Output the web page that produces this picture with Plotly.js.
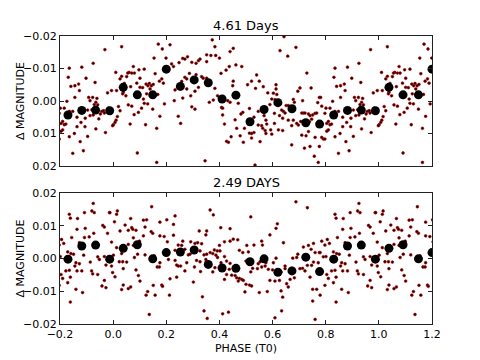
<!DOCTYPE html>
<html>
<head>
<meta charset="utf-8">
<script src="https://cdn.plot.ly/plotly-3.0.1.min.js"></script>
<style>html,body{margin:0;padding:0;background:#fff;}#chart{width:480px;height:360px;}</style>
</head>
<body>
<div id="chart"></div>
<script>
// Titles and labels
const topTitle = "4.61 Days";
const bottomTitle = "2.49 DAYS";
const yLabel = "\u0394 MAGNITUDE";
const xLabel = "PHASE (T0)";

// Phase-folded photometry, one cycle (phase, delta magnitude) - 4.61 day period
const topPoints = [
[0.032,-0.0167],[0.170,-0.0175],[0.185,-0.0160],[0.214,-0.0173],[0.154,-0.0132],[0.199,-0.0132],[0.248,-0.0118],[0.220,-0.0114],[0.227,-0.0106],[0.010,-0.0088],
[0.076,-0.0106],[0.060,-0.0088],[0.055,-0.0086],[0.070,-0.0086],[0.080,-0.0086],[0.097,-0.0096],[0.117,-0.0098],[0.158,-0.0084],[0.026,-0.0068],[0.032,-0.0076],
[0.051,-0.0075],[0.101,-0.0070],[0.183,-0.0068],[0.174,-0.0061],[0.189,-0.0055],[0.089,-0.0055],[0.042,-0.0054],[0.066,-0.0044],[0.101,-0.0042],[0.111,-0.0041],
[0.124,-0.0052],[0.131,-0.0047],[0.136,-0.0054],[0.144,-0.0047],[0.151,-0.0051],[0.139,-0.0037],[0.168,-0.0020],[0.126,-0.0022],[0.114,-0.0006],[-0.006,-0.0032],
[0.013,-0.0032],[0.038,-0.0027],[0.048,-0.0016],[0.036,-0.0022],[0.230,-0.0001],[0.233,-0.0034],[0.243,-0.0042],[0.117,0.0007],[0.130,0.0009],[0.149,0.0025],
[0.193,0.0009],[0.057,0.0012],[0.070,0.0016],[0.020,0.0017],[0.026,0.0030],[0.107,0.0022],[0.095,0.0035],[0.079,0.0042],[0.016,0.0048],[0.011,0.0059],
[0.007,0.0066],[0.001,0.0073],[-0.002,0.0076],[0.064,0.0071],[0.122,0.0073],[0.176,0.0047],[0.245,0.0047],[0.164,0.0084],[0.091,0.0160],[0.164,0.0189],
[0.373,-0.0188],[0.452,-0.0162],[0.440,-0.0152],[0.383,-0.0167],[0.352,-0.0142],[0.368,-0.0140],[0.386,-0.0140],[0.400,-0.0132],[0.262,-0.0131],[0.280,-0.0136],
[0.270,-0.0129],[0.312,-0.0116],[0.321,-0.0124],[0.327,-0.0129],[0.352,-0.0121],[0.296,-0.0119],[0.462,-0.0111],[0.484,-0.0106],[0.437,-0.0106],[0.425,-0.0095],
[0.406,-0.0085],[0.287,-0.0085],[0.270,-0.0073],[0.277,-0.0068],[0.312,-0.0081],[0.333,-0.0075],[0.339,-0.0070],[0.352,-0.0070],[0.302,-0.0063],[0.321,-0.0042],
[0.258,-0.0060],[0.277,-0.0037],[0.308,-0.0030],[0.292,-0.0016],[0.262,-0.0009],[0.383,-0.0039],[0.452,-0.0061],[0.450,-0.0047],[0.506,-0.0050],[0.393,-0.0016],
[0.440,0.0004],[0.408,0.0020],[0.412,0.0022],[0.377,-0.0003],[0.362,0.0004],[0.431,-0.0001],[0.471,0.0007],[0.513,0.0023],[0.488,0.0035],[0.481,0.0040],
[0.296,0.0018],[0.308,0.0025],[0.254,0.0069],[0.412,0.0043],[0.459,0.0058],[0.419,0.0071],[0.509,0.0071],[0.494,0.0084],[0.465,0.0084],[0.513,0.0099],
[0.444,0.0110],[0.478,0.0107],[0.427,0.0124],[0.434,0.0127],[0.490,0.0127],[0.346,0.0184],
[0.643,-0.0198],[0.688,-0.0165],[0.628,-0.0155],[0.657,-0.0138],[0.729,-0.0086],[0.540,-0.0080],[0.550,-0.0061],[0.521,-0.0061],[0.565,-0.0044],[0.536,-0.0039],
[0.613,-0.0050],[0.613,-0.0037],[0.582,-0.0025],[0.603,-0.0024],[0.703,-0.0040],[0.695,-0.0030],[0.745,-0.0040],[0.616,-0.0020],[0.597,-0.0006],[0.609,-0.0004],
[0.590,0.0011],[0.678,-0.0005],[0.682,0.0004],[0.713,-0.0001],[0.651,0.0014],[0.659,0.0014],[0.666,0.0020],[0.634,0.0028],[0.641,0.0032],[0.647,0.0037],
[0.546,0.0032],[0.568,0.0045],[0.575,0.0059],[0.607,0.0038],[0.626,0.0045],[0.638,0.0053],[0.710,0.0037],[0.716,0.0037],[0.722,0.0037],[0.735,0.0040],
[0.741,0.0045],[0.751,0.0043],[0.760,0.0038],[0.766,0.0037],[0.776,-0.0011],[0.770,0.0005],[0.530,0.0050],[0.546,0.0074],[0.559,0.0076],[0.563,0.0084],
[0.578,0.0071],[0.607,0.0069],[0.659,0.0059],[0.678,0.0059],[0.691,0.0069],[0.672,0.0076],[0.697,0.0074],[0.706,0.0063],[0.739,0.0064],[0.747,0.0056],
[0.521,0.0100],[0.530,0.0097],[0.575,0.0100],[0.572,0.0091],[0.593,0.0089],[0.597,0.0102],[0.622,0.0089],[0.638,0.0091],[0.735,0.0094],[0.710,0.0105],
[0.726,0.0107],[0.760,0.0112],[0.521,0.0114],[0.553,0.0125],[0.672,0.0135],[0.720,0.0145],[0.741,0.0140],[0.776,0.0140],[0.757,0.0170],[0.772,0.0189],[0.534,0.0197],
[0.969,-0.0158],[0.835,-0.0101],[0.882,-0.0104],[0.925,-0.0116],[0.831,-0.0073],[0.898,-0.0070],[0.841,-0.0045],[0.856,-0.0047],[0.870,-0.0052],[0.873,-0.0032],
[0.932,-0.0057],[0.979,-0.0025],[0.781,-0.0011],[0.826,0.0001],[0.856,-0.0011],[0.908,-0.0011],[0.923,-0.0011],[0.913,-0.0001],[0.939,-0.0008],[0.935,0.0004],
[0.929,0.0011],[0.942,0.0012],[0.785,0.0016],[0.801,0.0022],[0.816,0.0022],[0.797,0.0038],[0.835,0.0032],[0.848,0.0032],[0.904,0.0028],[0.920,0.0027],
[0.957,0.0032],[0.964,0.0030],[0.967,0.0037],[0.982,0.0022],[0.810,0.0063],[0.804,0.0069],[0.816,0.0073],[0.822,0.0071],[0.864,0.0050],[0.879,0.0066],
[0.895,0.0053],[0.913,0.0045],[0.925,0.0043],[0.946,0.0055],[0.952,0.0040],[0.864,0.0079],[0.894,0.0079],[0.804,0.0093],[0.810,0.0089],[0.785,0.0112],
[0.791,0.0117],[0.797,0.0117],[0.835,0.0110],[0.854,0.0100],[0.904,0.0109],[0.935,0.0086],[0.971,0.0097],[0.876,0.0125],[0.888,0.0153],[0.848,0.0161]
];

// Binned means, 4.61 day period
const topBinPhase = [0.038,0.091,0.149,0.200,0.253,0.305,0.358,0.410,0.462,0.515,0.568,0.620,0.673,0.725,0.777,0.830,0.882,0.934,0.987];
const topBinMag   = [-0.0042,-0.0019,-0.0019,-0.0098,-0.0045,-0.0065,-0.0056,-0.0006,-0.0018,0.0064,0.0026,0.0005,0.0024,0.0067,0.0071,0.0043,0.0029,0.0028,0.0030];

// Phase-folded photometry, one cycle - 2.49 day period
const bottomPoints = [
[0.145,0.0158],[0.016,0.0145],[0.013,0.0135],[-0.012,0.0140],[0.005,0.0112],[0.066,0.0122],[0.114,0.0117],[0.126,0.0118],[0.176,0.0111],[0.202,0.0118],
[0.227,0.0104],[0.233,0.0130],[0.045,0.0102],[0.070,0.0094],[0.074,0.0089],[0.026,0.0084],[0.057,0.0086],[0.086,0.0086],[0.120,0.0096],[0.143,0.0082],
[0.149,0.0077],[0.176,0.0069],[0.192,0.0067],[0.114,0.0069],[0.076,0.0063],[0.227,0.0071],[0.204,0.0051],[0.099,0.0053],[0.095,0.0045],[-0.006,0.0050],
[0.013,0.0033],[0.057,0.0043],[0.076,0.0040],[0.245,0.0041],[0.233,0.0025],[0.032,0.0015],[0.001,0.0010],[0.092,0.0013],[0.120,0.0011],[0.155,0.0008],
[0.080,0.0003],[0.051,-0.0011],[0.023,-0.0010],[0.036,-0.0010],[-0.006,-0.0023],[0.233,-0.0006],[0.239,-0.0020],[0.245,-0.0023],[0.208,-0.0003],[0.176,-0.0013],
[0.166,-0.0026],[0.174,-0.0026],[0.038,-0.0031],[0.086,-0.0035],[-0.002,-0.0043],[0.007,-0.0056],[0.095,-0.0052],[0.239,-0.0057],[0.214,-0.0062],[0.101,-0.0069],
[0.038,-0.0081],[0.066,-0.0087],[0.057,-0.0092],[0.032,-0.0095],[0.151,-0.0082],[0.183,-0.0081],[0.186,-0.0085],[0.130,-0.0101],[0.124,-0.0112],[0.158,-0.0112],
[0.212,-0.0112],[0.136,-0.0171],
[0.365,0.0148],[0.377,0.0133],[0.405,0.0094],[0.440,0.0091],[0.324,0.0084],[0.352,0.0084],[0.349,0.0072],[0.452,0.0059],[0.440,0.0053],[0.419,0.0051],
[0.469,0.0057],[0.262,0.0053],[0.258,0.0040],[0.270,0.0028],[0.292,0.0051],[0.308,0.0046],[0.318,0.0048],[0.333,0.0045],[0.400,0.0040],[0.381,0.0026],
[0.392,0.0023],[0.402,0.0023],[0.365,0.0018],[0.375,0.0015],[0.342,0.0011],[0.352,0.0013],[0.327,0.0023],[0.308,0.0023],[0.296,0.0028],[0.289,0.0013],
[0.475,0.0025],[0.488,0.0018],[0.509,0.0020],[0.503,0.0040],[0.283,0.0011],[0.387,0.0010],[0.393,0.0003],[0.419,0.0006],[0.406,-0.0013],[0.427,-0.0008],
[0.440,-0.0015],[0.349,-0.0003],[0.314,-0.0006],[0.327,-0.0010],[0.500,-0.0008],[0.277,-0.0013],[0.306,-0.0026],[0.254,-0.0023],[0.437,-0.0033],[0.427,-0.0049],
[0.446,-0.0051],[0.459,-0.0052],[0.465,-0.0059],[0.475,-0.0061],[0.484,-0.0064],[0.490,-0.0067],[0.471,-0.0069],[0.419,-0.0064],[0.270,-0.0038],[0.329,-0.0040],
[0.375,-0.0041],[0.383,-0.0028],[0.400,-0.0028],[0.500,-0.0079],[0.513,-0.0081],[0.496,-0.0102],[0.302,-0.0072],[0.336,-0.0117],[0.342,-0.0160],[0.354,-0.0183],
[0.434,-0.0164],[0.412,-0.0169],
[0.688,0.0173],[0.731,0.0155],[0.518,0.0127],[0.618,0.0106],[0.613,0.0092],[0.590,0.0072],[0.559,0.0053],[0.530,0.0041],[0.562,0.0041],[0.641,0.0048],
[0.754,0.0046],[0.735,0.0040],[0.716,0.0035],[0.745,0.0028],[0.760,0.0018],[0.776,0.0018],[0.695,0.0013],[0.676,0.0001],[0.691,0.0003],[0.613,0.0001],
[0.603,-0.0013],[0.575,-0.0013],[0.572,-0.0023],[0.553,-0.0010],[0.546,-0.0016],[0.559,-0.0026],[0.543,-0.0031],[0.525,-0.0030],[0.647,-0.0023],[0.647,-0.0031],
[0.672,-0.0030],[0.703,-0.0031],[0.713,-0.0030],[0.722,-0.0038],[0.731,-0.0021],[0.747,-0.0021],[0.772,-0.0013],[0.754,-0.0011],[0.584,-0.0033],[0.600,-0.0035],
[0.619,-0.0040],[0.741,-0.0057],[0.632,-0.0041],[0.518,-0.0041],[0.590,-0.0067],[0.609,-0.0069],[0.626,-0.0067],[0.666,-0.0064],[0.682,-0.0059],[0.653,-0.0077],
[0.659,-0.0087],[0.521,-0.0084],[0.751,-0.0094],[0.766,-0.0094],[0.550,-0.0104],[0.580,-0.0101],[0.632,-0.0099],[0.638,-0.0118],[0.751,-0.0130],[0.634,-0.0160],
[0.609,-0.0181],[0.760,-0.0186],
[0.925,0.0168],[0.835,0.0135],[0.839,0.0123],[0.892,0.0140],[0.920,0.0145],[0.929,0.0140],[0.986,0.0140],[0.866,0.0122],[0.961,0.0101],[0.967,0.0096],
[0.895,0.0092],[0.864,0.0089],[0.979,0.0077],[0.927,0.0077],[0.910,0.0066],[0.892,0.0064],[0.844,0.0064],[0.873,0.0048],[0.879,0.0041],[0.785,0.0053],
[0.806,0.0058],[0.814,0.0046],[0.797,0.0041],[0.779,0.0018],[0.801,0.0006],[0.791,0.0005],[0.829,0.0020],[0.841,0.0015],[0.851,0.0013],[0.889,0.0010],
[0.942,0.0005],[0.948,-0.0003],[0.967,0.0006],[0.860,-0.0013],[0.873,-0.0016],[0.914,-0.0011],[0.856,-0.0023],[0.864,-0.0038],[0.835,-0.0036],[0.839,-0.0057],
[0.822,-0.0038],[0.804,-0.0049],[0.810,-0.0061],[0.829,-0.0074],[0.882,-0.0038],[0.919,-0.0038],[0.923,-0.0047],[0.942,-0.0049],[0.973,-0.0020],[0.967,-0.0067],
[0.958,-0.0084],[0.973,-0.0089],[0.885,-0.0104],[0.860,-0.0094],[0.779,-0.0112],[0.797,-0.0082],[0.839,-0.0133]
];

// Binned means, 2.49 day period
const bottomBinPhase = [0.038,0.091,0.149,0.200,0.253,0.305,0.358,0.410,0.462,0.515,0.568,0.620,0.673,0.725,0.777,0.830,0.882,0.934,0.987];
const bottomBinMag   = [0.0031,0.0042,-0.0001,0.0018,0.0020,0.0026,-0.0018,-0.0029,-0.0030,-0.0010,-0.0001,-0.0042,-0.0038,0.0004,-0.0040,-0.0002,0.0038,0.0041,-0.0002];

// Axis ticks
const xTicks = [-0.2, 0.0, 0.2, 0.4, 0.6, 0.8, 1.0, 1.2];
const yTicks = [-0.02, -0.01, 0.00, 0.01, 0.02];

// Repeat a phase-folded series over the shown phase window (cycles -1, 0, +1)
function wrap(ph, mg) {
  const x = [], y = [];
  [-1, 0, 1].forEach(c => { ph.forEach((p, i) => { x.push(p + c); y.push(mg[i]); }); });
  return {x, y};
}
const topRaw = wrap(topPoints.map(p => p[0]), topPoints.map(p => p[1]));
const botRaw = wrap(bottomPoints.map(p => p[0]), bottomPoints.map(p => p[1]));
const topBin = wrap(topBinPhase, topBinMag);
const botBin = wrap(bottomBinPhase, bottomBinMag);

const smallMarker = {size: 2.8, color: '#220000', line: {color: '#c00000', width: 0.6}};
const bigMarker = {size: 9, color: '#000000'};

const traces = [
  {x: topRaw.x, y: topRaw.y, type: 'scatter', mode: 'markers', marker: smallMarker, xaxis: 'x', yaxis: 'y', hoverinfo: 'skip'},
  {x: topBin.x, y: topBin.y, type: 'scatter', mode: 'markers', marker: bigMarker, xaxis: 'x', yaxis: 'y', hoverinfo: 'skip'},
  {x: botRaw.x, y: botRaw.y, type: 'scatter', mode: 'markers', marker: smallMarker, xaxis: 'x2', yaxis: 'y2', hoverinfo: 'skip'},
  {x: botBin.x, y: botBin.y, type: 'scatter', mode: 'markers', marker: bigMarker, xaxis: 'x2', yaxis: 'y2', hoverinfo: 'skip'}
];

const fam = 'DejaVu Sans, sans-serif';
const axisBase = {
  showline: true, linecolor: '#222', linewidth: 1, mirror: 'ticks',
  ticks: 'inside', ticklen: 4, tickcolor: '#222', tickwidth: 1,
  showgrid: false, zeroline: false, tickfont: {family: fam, size: 11, color: '#000'}
};

const layout = {
  width: 480, height: 360,
  margin: {l: 60, r: 48, t: 36, b: 36},
  paper_bgcolor: '#fff', plot_bgcolor: '#fff',
  showlegend: false,
  font: {family: fam, color: '#000', size: 11},
  xaxis: Object.assign({}, axisBase, {domain: [0, 1], anchor: 'y', range: [-0.2, 1.2], tickvals: xTicks, showticklabels: false}),
  yaxis: Object.assign({}, axisBase, {domain: [0.5486, 1], anchor: 'x', range: [0.02, -0.02], tickvals: yTicks, tickformat: '.2f'}),
  xaxis2: Object.assign({}, axisBase, {domain: [0, 1], anchor: 'y2', range: [-0.2, 1.2], tickvals: xTicks, tickformat: '.1f',
    title: {text: xLabel, font: {family: fam, size: 11}, standoff: 4}}),
  yaxis2: Object.assign({}, axisBase, {domain: [0, 0.4549], anchor: 'x2', range: [-0.02, 0.02], tickvals: yTicks, tickformat: '.2f'}),
  annotations: [
    {text: topTitle, xref: 'paper', yref: 'paper', x: 0.5, y: 1, yanchor: 'bottom', xanchor: 'center', yshift: 1, showarrow: false,
     font: {family: fam, size: 13, color: '#000'}},
    {text: bottomTitle, xref: 'paper', yref: 'paper', x: 0.5, y: 0.4549, yanchor: 'bottom', xanchor: 'center', yshift: 1, showarrow: false,
     font: {family: fam, size: 13, color: '#000'}},
    {text: yLabel, xref: 'paper', yref: 'paper', x: -0.1075, y: 0.7743, xanchor: 'center', yanchor: 'middle', textangle: -90, showarrow: false,
     font: {family: fam, size: 11, color: '#000'}},
    {text: yLabel, xref: 'paper', yref: 'paper', x: -0.1075, y: 0.2275, xanchor: 'center', yanchor: 'middle', textangle: -90, showarrow: false,
     font: {family: fam, size: 11, color: '#000'}}
  ]
};

Plotly.newPlot('chart', traces, layout, {staticPlot: true, displayModeBar: false});
</script>
</body>
</html>
